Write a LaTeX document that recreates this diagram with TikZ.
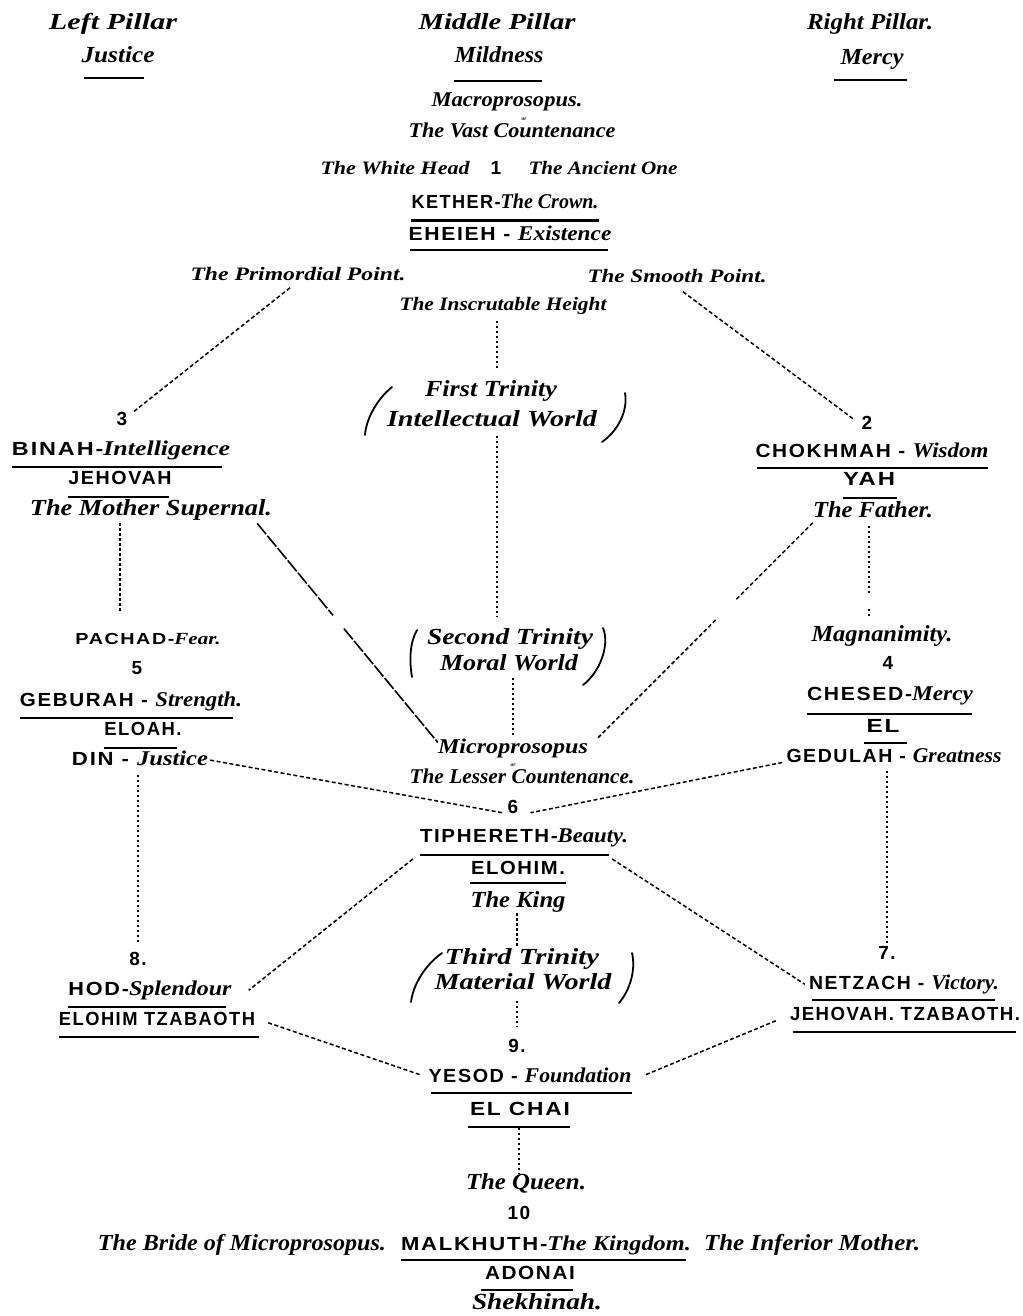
\documentclass[tikz,border=0pt]{standalone}
\usepackage{fontspec}
\setmainfont{Liberation Serif}
\newfontfamily\capfont{Liberation Sans}[LetterSpace=8]
\usepackage{graphicx}
\usetikzlibrary{calc}
\newcommand\fw[2]{\resizebox{#1pt}{\height}{#2}}
\newcommand\ital[1]{{\fontsize{21}{21}\selectfont\rmfamily\itshape #1}}
\newcommand\italsm[1]{{\fontsize{17}{17}\selectfont\rmfamily\itshape #1}}
\newcommand\ulnode[4]{\draw[ul,shorten <=#3pt,shorten >=#4pt] ([yshift=-#2pt]#1.mid west) -- ([yshift=-#2pt]#1.mid east);}
\tikzset{
 lbl/.style={inner sep=0pt, anchor=mid},
 itl/.style={lbl, font=\fontsize{23}{23}\selectfont\bfseries\itshape},
 itm/.style={lbl, font=\fontsize{21}{21}\selectfont\bfseries\itshape},
 its/.style={lbl, font=\fontsize{19}{19}\selectfont\bfseries\itshape},
 itor/.style={lbl, font=\fontsize{5.5}{5.5}\selectfont\bfseries\itshape},
 capl/.style={lbl, font=\fontsize{19}{19}\selectfont\capfont\bfseries},
 capsm/.style={lbl, font=\fontsize{16}{16}\selectfont\capfont\bfseries},
 ul/.style={line width=2.4pt},
 dotl/.style={line width=1.4pt, dash pattern=on 2.5pt off 2.5pt},
 dashl/.style={line width=1.5pt, dash pattern=on 4pt off 2.5pt},
 longl/.style={line width=1.6pt, dash pattern=on 14pt off 2pt},
 paren/.style={line width=1.8pt, line cap=round},
}
\begin{document}
\begin{tikzpicture}[x=1pt,y=-1pt]
\useasboundingbox (0,0) rectangle (1022,1316);
% header
\node[itl] (lp) at (113,27) {\fw{128}{Left Pillar}};
\node[itl] (lj) at (118,60) {\fw{73}{Justice}};
\node[itl] (mp) at (497,27) {\fw{157}{Middle Pillar}};
\node[itl] (mm) at (499,60) {\fw{89}{Mildness}};
\node[itl] (rp) at (870,27) {\fw{126}{Right Pillar.}};
\node[itl] (rm) at (872,62) {\fw{63}{Mercy}};
\ulnode{lj}{18}{3}{11}
\ulnode{mm}{21}{0}{2}
\ulnode{rm}{18}{-6}{-3}
% Kether
\node[itm] (macro) at (507,104) {\fw{151}{Macroprosopus.}};
\node[itor] (or1) at (524,117.8) {or};
\node[itm] (vast) at (512,135) {\fw{207}{The Vast Countenance}};
\node[its] (white) at (395,172) {\fw{149}{The White Head}};
\node[capl] (n1) at (496,172) {1};
\node[its] (ancient) at (603,172) {\fw{149}{The Ancient One}};
\node[capl] (kether) at (505,206) {\fw{187}{KETHER-\ital{The Crown.}}};
\node[capl] (eheieh) at (510,238) {\fw{203}{EHEIEH - \ital{Existence}}};
\draw[line width=3pt] ([yshift=-14pt]kether.mid west) -- ([yshift=-14pt]kether.mid east);
\ulnode{eheieh}{12}{2}{4}
\node[its] (prim) at (298,278) {\fw{215}{The Primordial Point.}};
\node[its] (smooth) at (677,280) {\fw{179}{The Smooth Point.}};
\node[its] (insc) at (503,308) {\fw{207}{The Inscrutable Height}};
% first trinity
\node[itl] (tr1a) at (491,394) {\fw{132}{First Trinity}};
\node[itl] (tr1b) at (492,424) {\fw{210}{Intellectual World}};
\draw[paren] (392,387) .. controls (376,400) and (366,420) .. (365,435);
\draw[paren] (625,393) .. controls (628,410) and (619,430) .. (602,442);
% Binah
\node[capl] (n3) at (122,423) {3};
\node[capl] (binah) at (121,453) {\fw{218}{BINAH-\ital{Intelligence}}};
\node[capl] (jehovah) at (120,482) {\fw{103}{JEHOVAH}};
\node[itl] (mother) at (151,513) {\fw{242}{The Mother Supernal.}};
\ulnode{binah}{14}{0}{8}
\ulnode{jehovah}{15}{0}{3}
% Chokhmah
\node[capl] (n2) at (867,427) {2};
\node[capl] (chok) at (872,455) {\fw{233}{CHOKHMAH - \ital{Wisdom}}};
\node[capl] (yah) at (869,483) {\fw{52}{YAH}};
\node[itl] (father) at (873,515) {\fw{120}{The Father.}};
\ulnode{chok}{13}{2}{1}
\ulnode{yah}{15}{0}{-2}
% Geburah
\node[capsm] (pachad) at (148,642) {\fw{145}{PACHAD-\italsm{Fear.}}};
\node[capl] (n5) at (137,672) {5};
\node[capl] (geb) at (131,704) {\fw{222}{GEBURAH - \ital{Strength.}}};
\node[capl] (eloah) at (143,733) {\fw{77}{ELOAH.}};
\node[capl] (din) at (140,763) {\fw{136}{DIN - \ital{Justice}}};
\ulnode{geb}{14}{0}{9}
\ulnode{eloah}{15}{0}{5}
% second trinity
\node[itl] (tr2a) at (510,642) {\fw{166}{Second Trinity}};
\node[itl] (tr2b) at (509,668) {\fw{138}{Moral World}};
\draw[paren] (417,630) .. controls (410,642) and (409,660) .. (412,677);
\draw[paren] (603,628) .. controls (610,645) and (600,672) .. (583,685);
% Chesed
\node[itl] (magn) at (882,639) {\fw{141}{Magnanimity.}};
\node[capl] (n4) at (888,667) {4};
\node[capl] (chesed) at (890,698) {\fw{166}{CHESED-\ital{Mercy}}};
\node[capl] (el) at (883,730) {\fw{33}{EL}};
\node[capl] (gedulah) at (894,760) {\fw{215}{GEDULAH - \ital{Greatness}}};
\ulnode{chesed}{16}{0}{1}
\ulnode{el}{13}{-2}{-7}
% Tiphereth
\node[itm] (micro) at (513,751) {\fw{150}{Microprosopus}};
\node[itor] (or2) at (513,764.3) {or};
\node[itm] (lesser) at (522,781) {\fw{225}{The Lesser Countenance.}};
\node[capl] (n6) at (513,811) {6};
\node[capl] (tiph) at (524,840) {\fw{208}{TIPHERETH-\ital{Beauty.}}};
\node[capl] (elohim) at (518,872) {\fw{94}{ELOHIM.}};
\node[itl] (king) at (518,905) {\fw{95}{The King}};
\ulnode{tiph}{15}{0}{19}
\ulnode{elohim}{11}{-1}{-1}
% third trinity
\node[itl] (tr3a) at (522,962) {\fw{154}{Third Trinity}};
\node[itl] (tr3b) at (523,987) {\fw{177}{Material World}};
\draw[paren] (442,953) .. controls (425,965) and (413,985) .. (411,1002);
\draw[paren] (632,953) .. controls (636,970) and (630,990) .. (619,1003);
% Hod
\node[capl] (n8) at (138,963) {8.};
\node[capl] (hod) at (150,993) {\fw{163}{HOD-\ital{Splendour}}};
\node[capl] (eltz) at (157,1023) {\fw{196}{ELOHIM TZABAOTH}};
\ulnode{hod}{14}{0}{6}
\ulnode{eltz}{14}{0}{-4}
% Netzach
\node[capl] (n7) at (887,957) {7.};
\node[capl] (netz) at (904,987) {\fw{190}{NETZACH - \ital{Victory.}}};
\node[capl] (jtz) at (905,1018) {\fw{230}{JEHOVAH. TZABAOTH.}};
\ulnode{netz}{13}{3}{4}
\ulnode{jtz}{14}{3}{4}
% Yesod
\node[capl] (n9) at (517,1050) {9.};
\node[capl] (yesod) at (530,1080) {\fw{203}{YESOD - \ital{Foundation}}};
\node[capl] (elchai) at (520,1113) {\fw{100}{EL CHAI}};
\ulnode{yesod}{13}{3}{0}
\ulnode{elchai}{14}{-2}{0}
% Malkuth
\node[itl] (queen) at (526,1187) {\fw{120}{The Queen.}};
\node[capl] (n10) at (519,1217) {10};
\node[itl] (bride) at (242,1248) {\fw{288}{The Bride of Microprosopus.}};
\node[capl] (malk) at (546,1248) {\fw{290}{MALKHUTH-\ital{The Kingdom.}}};
\node[itl] (inferior) at (812,1248) {\fw{216}{The Inferior Mother.}};
\node[capl] (adonai) at (530,1277) {\fw{90}{ADONAI}};
\node[itl] (shek) at (537,1307) {\fw{130}{Shekhinah.}};
\ulnode{malk}{12}{0}{5}
\ulnode{adonai}{13}{-4}{2}
% axes
\coordinate (axis) at (497,0);
\coordinate (axisb) at (513,0);
\coordinate (axisc) at (517,0);
% connectors
\draw[dashl] ([xshift=-8pt,yshift=-7pt]prim.south) -- ([xshift=6pt]n3.north east);
\draw[dashl] ([xshift=6pt,yshift=-9pt]smooth.south) -- ([xshift=-7pt,yshift=-4pt]n2.north west);
\draw[dotl,shorten <=6pt,shorten >=12pt] (insc.south -| axis) -- (tr1a.north -| axis);
\draw[dotl,shorten <=9pt,shorten >=11pt] (tr1b.south -| axis) -- (tr2a.north -| axis);
\draw[dotl,shorten <=7pt,shorten >=3pt] (tr2b.south -| axisb) -- (micro.north -| axisb);
\draw[dotl,shorten <=3pt,shorten >=22pt] (mother.south -| jehovah) -- (pachad.north -| jehovah);
% Binah to Tiphereth
\coordinate (bA) at ([xshift=-15pt,yshift=-3pt]mother.south east);
\coordinate (bB) at ([yshift=-4pt]micro.north west);
\draw[longl] (bA) -- ($(bA)!0.42!(bB)$);
\draw[longl] ($(bA)!0.48!(bB)$) -- (bB);
% Chokhmah to Tiphereth
\coordinate (cA) at ([yshift=-5pt]father.south west);
\coordinate (cB) at ([xshift=9pt]micro.north east);
\draw[dashl] (cA) -- ($(cA)!0.36!(cB)$);
\draw[dashl] ($(cA)!0.45!(cB)$) -- (cB);
% Chokhmah to Chesed
\coordinate (yA) at ([yshift=-8pt]father.south -| yah);
\coordinate (yB) at ([yshift=7pt]magn.north -| yah);
\draw[dotl] (yA) -- ($(yA)!0.75!(yB)$);
\draw[dotl] ($(yA)!0.9!(yB)$) -- (yB);
% to Tiphereth
\draw[dashl] ([xshift=2pt,yshift=-2pt]din.east) -- ([xshift=-5pt,yshift=-6pt]n6.west);
\draw[dashl] ([xshift=-4pt,yshift=-7pt]gedulah.west) -- ([xshift=12pt,yshift=-6pt]n6.east);
\draw[dotl,shorten <=9pt,shorten >=8pt] (din.south -| n8) -- (n8.north);
\draw[dotl,shorten <=8pt,shorten >=2pt] (gedulah.south -| n7) -- (n7.north);
\draw[dashl] ([xshift=-7pt,yshift=-12pt]tiph.south west) -- ([xshift=17pt]hod.east);
\draw[dashl] ([xshift=-16pt,yshift=-12pt]tiph.south east) -- ([xshift=-4pt]netz.west);
\draw[dotl,shorten <=1pt,shorten >=2pt] (king.south -| axisc) -- (tr3a.north -| axisc);
\draw[dotl,shorten <=11pt,shorten >=12pt] (tr3b.south -| axisc) -- (n9.north -| axisc);
\draw[dashl] ([xshift=13pt,yshift=-4pt]eltz.east) -- ([xshift=-7pt]yesod.west);
\draw[dashl] ([xshift=-14pt,yshift=-7pt]jtz.west) -- ([xshift=13pt]yesod.east);
\draw[dotl,shorten <=12pt] (elchai.south -| n10) -- (queen.north -| n10);
\end{tikzpicture}
\end{document}
